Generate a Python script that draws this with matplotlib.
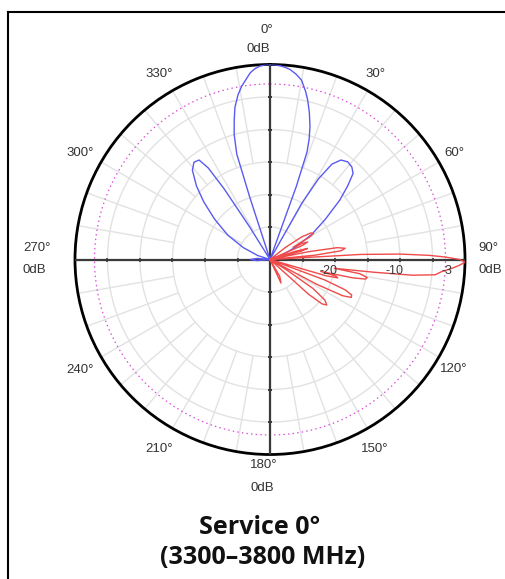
import numpy as np
import matplotlib
matplotlib.use("Agg")
import matplotlib.pyplot as plt
from matplotlib.lines import Line2D

# blue pattern (azimuth deg, level dB), -30 = centre
blue_deg = [-180, -100, -95, -90, -85, -78, -72, -66, -60, -54,
            -49, -45, -41, -38, -35.5, -34, -33, -32, -31, -24,
            -18.5, -18, -17.5, -16, -14.5, -13, -11, -9.3, -7.5, -6,
            -4.5, -3, -1.5, 0, 1.5, 3, 4.5, 6, 8, 10,
            12, 13.3, 15, 16.7, 18, 19, 19.8, 20.3, 28.5, 29.5,
            31, 33, 35.5, 38.5, 41.5, 44, 46.5, 49.6, 54, 59,
            64, 70, 76, 180]
blue_db = [-30, -30, -28, -27, -28, -30, -28, -25.5, -22.5, -19.5,
           -16.5, -14, -11.8, -11, -11.2, -13, -17, -24, -30, -30,
           -30, -20, -13, -10, -8, -6, -4.2, -3, -2, -1.1,
           -0.55, -0.2, -0.05, 0, -0.05, -0.15, -0.35, -0.6, -1.2, -2,
           -3.6, -4.8, -6.6, -8.6, -10.5, -12.5, -18, -30, -30, -20,
           -15.5, -12.5, -11.2, -10.8, -11, -11.6, -13.5, -15.9, -19.5, -22.5,
           -25.5, -28, -30, -30]

# red pattern
red_deg = [0, 45, 52, 54.5, 57, 59, 60.5, 62, 63.5, 65,
           66.5, 68, 70, 72, 73.5, 75, 77, 78.5, 80, 81.5,
           83, 84.5, 86, 86.8, 87.6, 88.5, 89.2, 90, 90.8, 91.8,
           92.8, 94, 95.3, 96.3, 97, 97.8, 99, 100.5, 101.6, 102.5,
           103.2, 104.2, 105.2, 106.2, 107.5, 109, 110.5, 112, 113.5, 115,
           116.5, 118, 120, 122, 124, 126.5, 128.7, 130.5, 132, 134,
           140, 150, 155, 160, 170, 360]
red_db = [-30, -30, -27, -24, -22.5, -22.2, -23, -26, -24.5, -23.6,
          -24.5, -30, -30, -26, -24, -25, -30, -24, -19.5, -18.3,
          -19, -23, -30, -16, -10, -5.5, -3, -0.8, 0, -0.9,
          -2, -3.5, -4.5, -8, -14, -20, -16, -14.8, -15, -17,
          -22, -19.5, -19.2, -21, -30, -30, -21, -17.5, -16.3, -16.2,
          -17.5, -22, -30, -27, -22, -19.5, -18.8, -19.5, -22, -30,
          -30, -27, -26, -30, -30, -30]

rings = [-25, -20, -15, -10, -5]
ring_labels = ["-20", "-10", "-3"]
ring_label_r = [-20, -10, -3]
angle_labels = [30, 60, 120, 150, 210, 240, 300, 330]

W, H = 506, 579
fig = plt.figure(figsize=(W / 100, H / 100), dpi=100)
ax = fig.add_axes([0.1482, 0.2150, 0.7708, 0.6736], projection="polar")
ax.set_theta_zero_location("N")
ax.set_theta_direction(-1)
ax.set_ylim(-30, 0)
ax.set_xticks([])
ax.set_yticks([])
ax.grid(False)
ax.spines["polar"].set_linewidth(2.0)
ax.spines["polar"].set_color("black")

gcol = "#e2e2e2"
th = np.linspace(0, 2 * np.pi, 361)
for r in rings:
    ax.plot(th, np.full_like(th, r), color=gcol, lw=1.0, zorder=1)
for a in range(0, 360, 10):
    start = -25 if a % 30 == 0 else -15
    ax.plot([np.deg2rad(a)] * 2, [start, 0], color=gcol, lw=1.0, zorder=1)
ax.plot(th, np.full_like(th, -3), color="#d94fd9", lw=0.9, ls=(0, (1.2, 2.5)), zorder=2)

# black axis cross with small ticks
for a in [0, 90, 180, 270]:
    ax.plot([np.deg2rad(a)] * 2, [-30, 0], color="#3a3a3a", lw=1.6, zorder=3)
    mk = "_" if a in (0, 180) else "|"
    ax.plot([np.deg2rad(a)] * len(rings), rings, ls="none", marker=mk, ms=2.5,
            mew=1.2, color="#3a3a3a", zorder=3)

ax.plot(np.deg2rad(blue_deg), blue_db, color="#5a5af2", lw=1.0, zorder=4)
ax.plot(np.deg2rad(red_deg), red_db, color="#f04a4a", lw=1.0, zorder=5)

for txt, r in zip(ring_labels, ring_label_r):
    dx = {"-20": -5, "-10": -4, "-3": 1}[txt]
    ax.annotate(txt, xy=(np.pi / 2, r), xytext=(dx, -8), textcoords="offset points",
                ha="center", va="center", fontsize=9, color="#3a3a3a",
                family="Liberation Sans", zorder=6)

lab = dict(fontsize=9.5, color="#333333", family="Liberation Sans", ha="center", va="center")


def ftext(x, y, s, **kw):
    d = dict(lab)
    d.update(kw)
    fig.text(x / W, 1 - y / H, s, **d)


# angle labels around the rim (pixel centre of the label ring)
cx, cy, rl = 267, 261.5, 216
for a in angle_labels:
    t = np.deg2rad(a)
    ftext(cx + rl * np.sin(t), cy - rl * np.cos(t), f"{a}°")

ftext(267, 30, "0°")
ftext(258, 49, "0dB")
ftext(488, 248, "90°")
ftext(490, 270, "0dB")
ftext(23, 248, "270°", ha="left")
ftext(23, 270, "0dB", ha="left")
ftext(264, 465, "180°")
ftext(262, 488, "0dB")

ftext(260, 528, "Service 0°", fontsize=18, color="#111111", family="Open Sans",
      weight="bold")
ftext(263, 558, "(3300–3800 MHz)", fontsize=18, color="#111111", family="Open Sans",
      weight="bold")

# frame
fig.add_artist(Line2D([8 / W, 8 / W], [0, 1 - 12 / H], color="black", lw=1.5))
fig.add_artist(Line2D([8 / W, 1], [1 - 12 / H, 1 - 12 / H], color="black", lw=1.5))

fig.savefig("out.png", dpi=100)
